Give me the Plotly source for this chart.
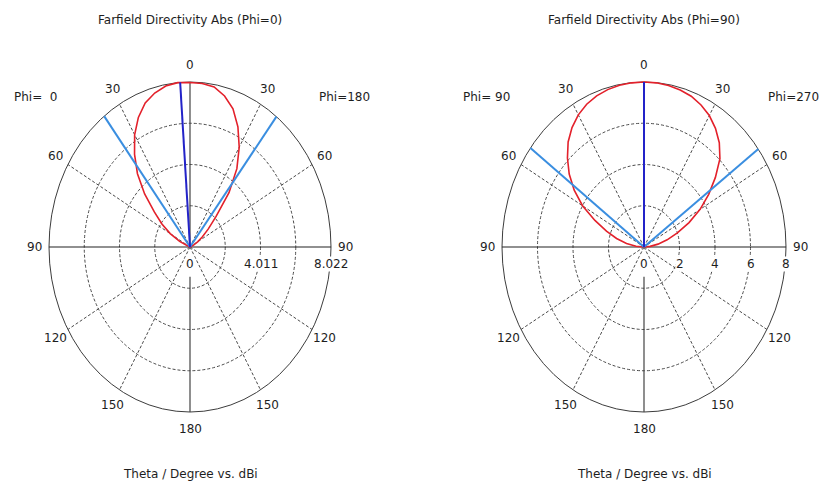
import numpy as np
import plotly.graph_objects as go

# ---------------- data ----------------
theta_deg = [0, 5, 10, 15, 20, 25, 30, 35, 40, 45, 50, 55, 60, 65, 70, 75, 80, 85, 90,
             95, 100, 105, 110, 115, 120, 125, 130, 135, 140, 145, 150, 155, 160, 165,
             170, 175, 180]

# Panel 1: Phi=0 / Phi=180 cut, plotted directivity (dBi, values below 0 sit at centre)
dir_phi0 = [8.00, 8.02, 7.95, 7.75, 7.45, 6.95, 6.30, 5.50, 4.65, 3.65, 2.65, 1.95, 1.30,
            0.65, 0.10] + [0.0] * 22
dir_phi180 = [8.00, 7.98, 7.90, 7.60, 7.15, 6.45, 5.60, 4.65, 3.45, 2.10, 1.35, 0.85, 0.50,
              0.20, 0.0] + [0.0] * 22

# Panel 2: Phi=90 / Phi=270 cut
dir_phi90 = [8.00, 7.99, 7.96, 7.90, 7.80, 7.64, 7.40, 7.07, 6.65, 6.10, 5.50, 4.80, 4.00,
             3.05, 2.25, 1.60, 1.00, 0.45, 0.0] + [0.0] * 18
dir_phi270 = [8.00, 7.99, 7.95, 7.88, 7.78, 7.60, 7.36, 7.02, 6.60, 6.05, 5.25, 4.45, 3.65,
              2.80, 2.00, 1.35, 0.80, 0.35, 0.0] + [0.0] * 18

# main lobe direction and 3 dB angular width lines (theta, side: -1 left / +1 right)
p1_main_theta, p1_main_side = 4, -1
p1_width_theta = [37.5, 37.8]
p2_main_theta, p2_main_side = 0, -1
p2_width_theta = [53.1, 53.6]

p1_rmax = 8.022
p1_rticks = [0, 4.011, 8.022]
p2_rmax = 8.0
p2_rticks = [0, 2, 4, 6, 8]

angle_ticks = [0, 30, 60, 90, 120, 150, 180]

titles = ["Farfield Directivity Abs (Phi=0)", "Farfield Directivity Abs (Phi=90)"]
side_labels = [("Phi=  0", "Phi=180"), ("Phi= 90", "Phi=270")]
bottom_label = "Theta / Degree vs. dBi"

# ---------------- styling / layout ----------------
RED = "#e3212b"
DBLUE = "#2323c8"
LBLUE = "#3a8ee0"
GRID = "#4a4a4a"
GRID_DASH = "3px,2px"
TXT = "#1e1e1e"
FONT = "DejaVu Sans"
FS = 12

OFF = 8                      # page body margin (top / left)
W, H = 829 - OFF, 486 - OFF
K = 1.2                      # axis range as a multiple of the outer radius
panel_geom = [               # centre (screen px), outer radius in px, side-label offsets
    dict(cx=190, cy=247, rx=141, ry=165, lab_l=1.095, lab_r=1.095),
    dict(cx=644, cy=247, rx=142, ry=165, lab_l=1.11, lab_r=1.05),
]

fig = go.Figure()

panels = [
    dict(xa="x", ya="y", rmax=p1_rmax, rticks=p1_rticks,
         left=dir_phi0, right=dir_phi180, main=(p1_main_theta, p1_main_side),
         width=p1_width_theta),
    dict(xa="x2", ya="y2", rmax=p2_rmax, rticks=p2_rticks,
         left=dir_phi90, right=dir_phi270, main=(p2_main_theta, p2_main_side),
         width=p2_width_theta),
]

shapes = []
annotations = []
axes = {}
th = np.radians(np.array(theta_deg, dtype=float))


def ann(xref, yref, x, y, text, bg=None):
    d = dict(xref=xref, yref=yref, x=x, y=y, text=text, showarrow=False,
             xanchor="center", yanchor="middle",
             font=dict(family=FONT, size=FS, color=TXT))
    if bg:
        d.update(bgcolor=bg, borderpad=0)
    return d


for i, p in enumerate(panels):
    g = panel_geom[i]
    xa, ya, R = p["xa"], p["ya"], p["rmax"]
    fx, fy = g["cx"] - OFF, g["cy"] - OFF
    xdom = [(fx - K * g["rx"]) / W, (fx + K * g["rx"]) / W]
    ydom = [1 - (fy + K * g["ry"]) / H, 1 - (fy - K * g["ry"]) / H]
    axes[xa] = (xdom, ydom, R)

    # grid circles (dotted) and outer circle
    for k in (0.25, 0.5, 0.75):
        rr = R * k
        shapes.append(dict(type="circle", xref=xa, yref=ya, x0=-rr, x1=rr, y0=-rr, y1=rr,
                           line=dict(color=GRID, width=1, dash=GRID_DASH), layer="below"))
    shapes.append(dict(type="circle", xref=xa, yref=ya, x0=-R, x1=R, y0=-R, y1=R,
                       line=dict(color="#3c3c3c", width=1), layer="below"))
    # radial dotted lines
    for a in (30, 60, 120, 150):
        ar = np.radians(a)
        for s in (-1, 1):
            shapes.append(dict(type="line", xref=xa, yref=ya, x0=0, y0=0,
                               x1=s * R * np.sin(ar), y1=R * np.cos(ar),
                               line=dict(color=GRID, width=1, dash=GRID_DASH),
                               layer="below"))
    # solid axes
    shapes.append(dict(type="line", xref=xa, yref=ya, x0=-R, y0=0, x1=R, y1=0,
                       line=dict(color="#222222", width=1.2), layer="below"))
    shapes.append(dict(type="line", xref=xa, yref=ya, x0=0, y0=0, x1=0, y1=R,
                       line=dict(color="#444444", width=1.2), layer="below"))
    shapes.append(dict(type="line", xref=xa, yref=ya, x0=0, y0=-0.18 * R, x1=0, y1=-R,
                       line=dict(color="#444444", width=1.2), layer="below"))

    # red directivity curve (left half then right half back to the top)
    rl = np.array(p["left"], dtype=float)
    rr_ = np.array(p["right"], dtype=float)
    xs = np.concatenate([-rl * np.sin(th), (rr_ * np.sin(th))[::-1]])
    ys = np.concatenate([rl * np.cos(th), (rr_ * np.cos(th))[::-1]])
    fig.add_trace(go.Scatter(x=xs, y=ys, mode="lines", line=dict(color=RED, width=1.6),
                             xaxis=xa, yaxis=ya, showlegend=False, hoverinfo="skip"))
    # 3 dB width lines (light blue)
    for s, a in zip((-1, 1), p["width"]):
        ar = np.radians(a)
        fig.add_trace(go.Scatter(x=[0, s * R * np.sin(ar)], y=[0, R * np.cos(ar)],
                                 mode="lines", line=dict(color=LBLUE, width=2),
                                 xaxis=xa, yaxis=ya, showlegend=False, hoverinfo="skip"))
    # main lobe direction (dark blue)
    ma, ms = p["main"]
    mar = np.radians(ma)
    fig.add_trace(go.Scatter(x=[0, ms * R * np.sin(mar)], y=[0, R * np.cos(mar)],
                             mode="lines", line=dict(color=DBLUE, width=2),
                             xaxis=xa, yaxis=ya, showlegend=False, hoverinfo="skip"))

    # angle labels
    LR = 1.105 * R
    for a in angle_ticks:
        ar = np.radians(a)
        sides = (-1,) if a in (0, 180) else (-1, 1)
        for s in sides:
            annotations.append(ann(xa, ya, s * LR * np.sin(ar), LR * np.cos(ar), str(a)))
    # radial labels
    for v in p["rticks"]:
        annotations.append(ann(xa, ya, v, -0.105 * R, "%g" % v, bg="white"))
    # phi side labels
    annotations.append(ann(xa, ya, -g["lab_l"] * R, 0.91 * R, side_labels[i][0]))
    annotations.append(ann(xa, ya, g["lab_r"] * R, 0.91 * R, side_labels[i][1]))
    # title and bottom label
    annotations.append(ann("paper", "paper", fx / W, 1 - (20 - OFF) / H, titles[i]))
    annotations.append(ann("paper", "paper", fx / W, 1 - (474 - OFF) / H, bottom_label))

axis_common = dict(visible=False, showgrid=False, zeroline=False, fixedrange=True)
xd1, yd1, R1 = axes["x"]
xd2, yd2, R2 = axes["x2"]
fig.update_layout(
    width=W, height=H,
    margin=dict(l=0, r=0, t=0, b=0),
    paper_bgcolor="white", plot_bgcolor="rgba(0,0,0,0)",
    xaxis=dict(domain=xd1, range=[-K * R1, K * R1], **axis_common),
    yaxis=dict(domain=yd1, range=[-K * R1, K * R1], **axis_common),
    xaxis2=dict(domain=xd2, range=[-K * R2, K * R2], **axis_common),
    yaxis2=dict(domain=yd2, range=[-K * R2, K * R2], **axis_common),
    shapes=shapes,
    annotations=annotations,
    showlegend=False,
)

fig.write_html("out.html")
